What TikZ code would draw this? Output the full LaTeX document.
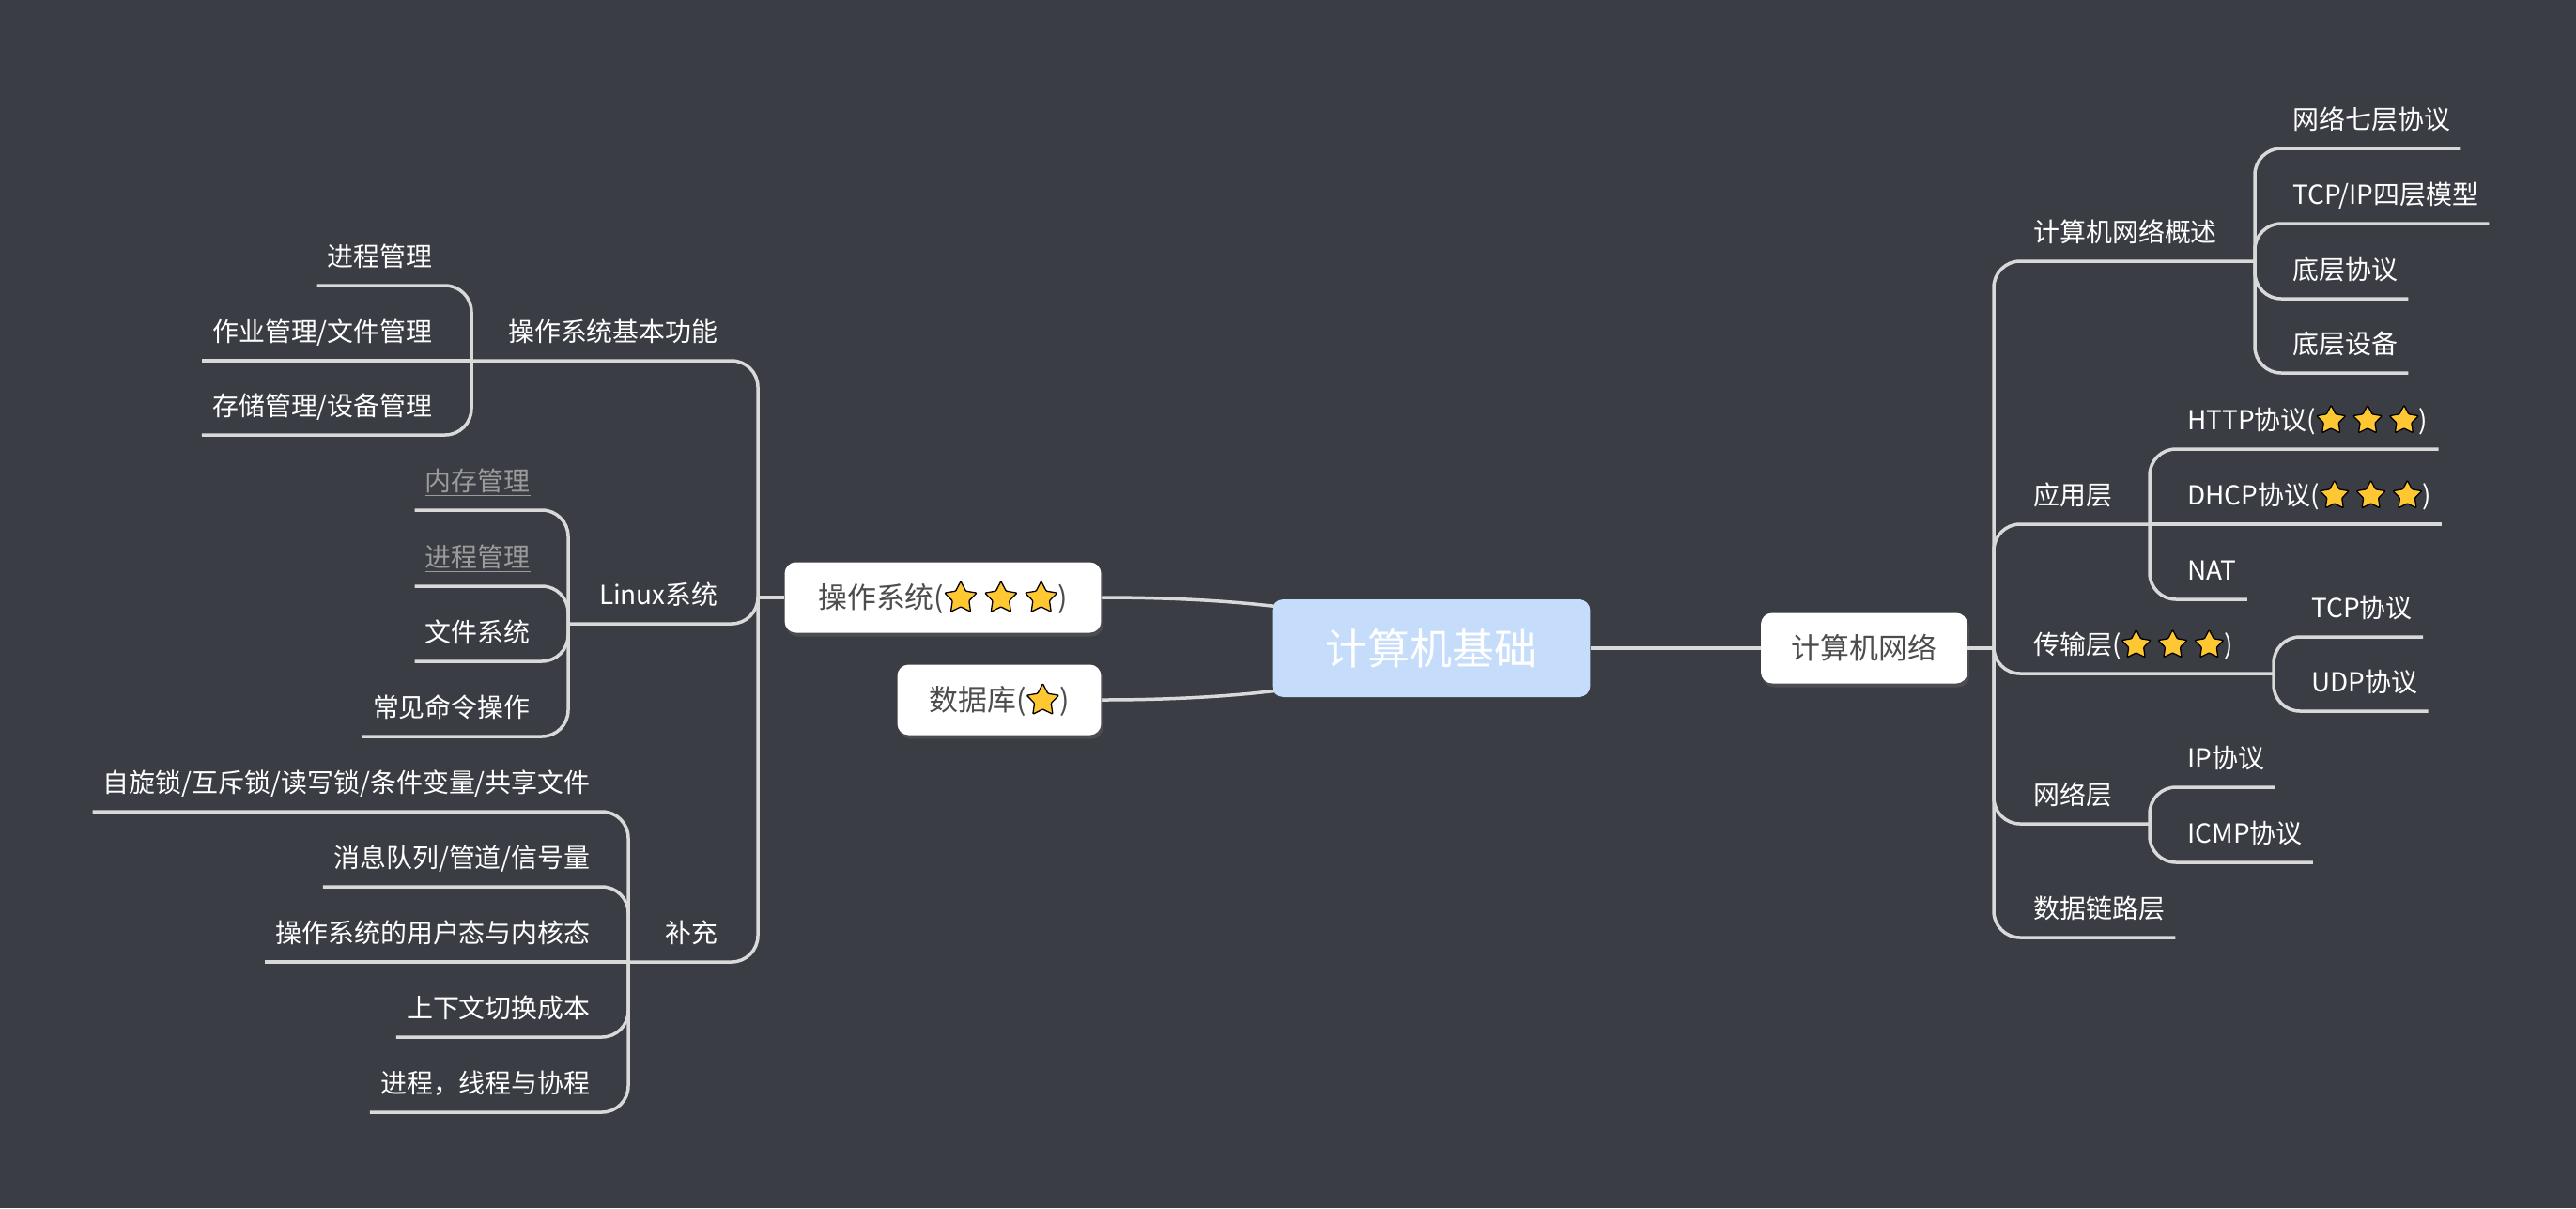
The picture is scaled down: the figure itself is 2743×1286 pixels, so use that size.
\documentclass[tikz,border=0pt]{standalone}
\usepackage{fontspec}
\setmainfont{Noto Sans CJK SC}
\usepackage{tikz}
\usetikzlibrary{shadows}

\definecolor{bgcol}{RGB}{58,61,67}
\definecolor{linecol}{RGB}{217,217,217}
\definecolor{rootcol}{RGB}{197,221,251}
\definecolor{boxtext}{RGB}{77,77,77}
\definecolor{fadetext}{RGB}{155,155,155}
\definecolor{starcol}{RGB}{255,200,50}

\pgfdeclarelayer{back}
\pgfsetlayers{back,main}

\tikzset{
  starmark/.style = {draw=black, fill=starcol, line width=0.026cm, line join=round, rounded corners=0.5pt}
}
\newcommand{\onestar}{\tikz[baseline=-0.36em]\draw[starmark] (90:0.58em) -- (126:0.3em) -- (162:0.58em) -- (198:0.3em) -- (234:0.58em) -- (270:0.3em) -- (306:0.58em) -- (342:0.3em) -- (18:0.58em) -- (54:0.3em) -- cycle;}
\newcommand{\threestars}{\onestar\hspace{0.24em}\onestar\hspace{0.24em}\onestar}

\begin{document}
\begin{tikzpicture}[
  x=0.02cm, y=-0.02cm,
  root/.style = {rectangle, rounded corners=0.24cm, fill=rootcol, text=white, font=\fontsize{25.6}{30}\selectfont, minimum width=6.78cm, minimum height=2.08cm},
  box/.style = {rectangle, rounded corners=0.24cm, fill=white, text=boxtext, font=\fontsize{17.6}{21}\selectfont, minimum height=1.5cm, drop shadow={opacity=0.25, shadow xshift=0.04cm, shadow yshift=-0.08cm}},
  topic/.style = {text=white, font=\fontsize{15.9}{19}\selectfont, inner xsep=0.22cm, inner ysep=0.28cm, text height=0.46cm, text depth=0.12cm},
  faded/.style = {topic, text=fadetext},
  link/.style = {draw=linecol, line width=0.07cm},
  branch/.style = {link, rounded corners=0.56cm}
]
\useasboundingbox (0,0) rectangle (2743,1286);

% centre and main boxes
\node[root] (root) at (1524,690) {计算机基础};
\node[box, minimum width=6.74cm] (os) at (1004,636) {操作系统(\threestars)};
\node[box, minimum width=4.34cm] (db) at (1064,745) {数据库(\onestar)};
\node[box, minimum width=4.4cm] (net) at (1985,690) {计算机网络};

% left side
\coordinate (osJ) at (807,636);
\coordinate (basicJ) at (502,384);
\coordinate (linuxJ) at (605,664);
\coordinate (moreJ) at (669,1024);

\node[topic, anchor=south east] (basic) at (776,384) {操作系统基本功能};
\node[topic, anchor=south east] (linux) at (776,664) {Linux系统};
\node[topic, anchor=south east] (more) at (776,1024) {补充};

\node[topic, anchor=south east] (bProc) at (472,304) {进程管理};
\node[topic, anchor=south east] (bJob) at (472,384) {作业管理/文件管理};
\node[topic, anchor=south east] (bStore) at (472,463) {存储管理/设备管理};

\node[faded, anchor=south east] (lMem) at (576,543) {\underline{内存管理}};
\node[faded, anchor=south east] (lProc) at (576,624) {\underline{进程管理}};
\node[topic, anchor=south east] (lFile) at (576,704) {文件系统};
\node[topic, anchor=south east] (lCmd) at (576,784) {常见命令操作};

\node[topic, anchor=south east] (mLock) at (640,864) {自旋锁/互斥锁/读写锁/条件变量/共享文件};
\node[topic, anchor=south east] (mIpc) at (640,944) {消息队列/管道/信号量};
\node[topic, anchor=south east] (mMode) at (640,1024) {操作系统的用户态与内核态};
\node[topic, anchor=south east] (mCtx) at (640,1104) {上下文切换成本};
\node[topic, anchor=south east] (mThread) at (640,1184) {进程，线程与协程};

% right side
\coordinate (netJ) at (2123,690);
\coordinate (ovJ) at (2401,278);
\coordinate (appJ) at (2289,558);
\coordinate (tranJ) at (2421,717);
\coordinate (ipJ) at (2289,877);

\node[topic, anchor=south west] (overview) at (2154,278) {计算机网络概述};
\node[topic, anchor=south west] (app) at (2154,558) {应用层};
\node[topic, anchor=south west] (trans) at (2154,717) {传输层(\threestars)};
\node[topic, anchor=south west] (netLayer) at (2154,877) {网络层};
\node[topic, anchor=south west] (linkLayer) at (2154,998) {数据链路层};

\node[topic, anchor=south west] (osi) at (2430,158) {网络七层协议};
\node[topic, anchor=south west] (tcpip) at (2430,238) {TCP/IP四层模型};
\node[topic, anchor=south west] (lowProto) at (2430,318) {底层协议};
\node[topic, anchor=south west] (lowDev) at (2430,397) {底层设备};

\node[topic, anchor=south west] (http) at (2318,478) {HTTP协议(\threestars)};
\node[topic, anchor=south west] (dhcp) at (2318,558) {DHCP协议(\threestars)};
\node[topic, anchor=south west] (nat) at (2318,638) {NAT};

\node[topic, anchor=south west] (tcp) at (2450,678) {TCP协议};
\node[topic, anchor=south west] (udp) at (2450,757) {UDP协议};

\node[topic, anchor=south west] (ip) at (2318,838) {IP协议};
\node[topic, anchor=south west] (icmp) at (2318,918) {ICMP协议};

% main links
\draw[link] (root.east) -- (net.west);
\draw[link] (net.east) -- (netJ);
\draw[link] (os.west) -- (osJ);

% left branches
\draw[branch] (osJ) |- (basicJ);
\draw[branch] (osJ) |- (linuxJ);
\draw[branch] (osJ) |- (moreJ);
\draw[branch] (basicJ) |- (bProc.south west);
\draw[link] (basicJ) -- (bJob.south west);
\draw[branch] (basicJ) |- (bStore.south west);
\draw[branch] (linuxJ) |- (lMem.south west);
\draw[branch] (linuxJ) |- (lProc.south west);
\draw[branch] (linuxJ) |- (lFile.south west);
\draw[branch] (linuxJ) |- (lCmd.south west);
\draw[branch] (moreJ) |- (mLock.south west);
\draw[branch] (moreJ) |- (mIpc.south west);
\draw[link] (moreJ) -- (mMode.south west);
\draw[branch] (moreJ) |- (mCtx.south west);
\draw[branch] (moreJ) |- (mThread.south west);

% right branches
\draw[branch] (netJ) |- (ovJ);
\draw[branch] (netJ) |- (appJ);
\draw[branch] (netJ) |- (tranJ);
\draw[branch] (netJ) |- (ipJ);
\draw[branch] (netJ) |- (linkLayer.south east);
\draw[branch] (ovJ) |- (osi.south east);
\draw[branch] (ovJ) |- (tcpip.south east);
\draw[branch] (ovJ) |- (lowProto.south east);
\draw[branch] (ovJ) |- (lowDev.south east);
\draw[branch] (appJ) |- (http.south east);
\draw[link] (appJ) -- (dhcp.south east);
\draw[branch] (appJ) |- (nat.south east);
\draw[branch] (tranJ) |- (tcp.south east);
\draw[branch] (tranJ) |- (udp.south east);
\draw[branch] (ipJ) |- (ip.south east);
\draw[branch] (ipJ) |- (icmp.south east);

\begin{pgfonlayer}{back}
  \fill[bgcol] (0,0) rectangle (2743,1286);
  \draw[link] (os.east) .. controls (1460,636) and (1524,690) .. (root.center);
  \draw[link] (db.east) .. controls (1460,745) and (1524,690) .. (root.center);
\end{pgfonlayer}
\end{tikzpicture}
\end{document}
